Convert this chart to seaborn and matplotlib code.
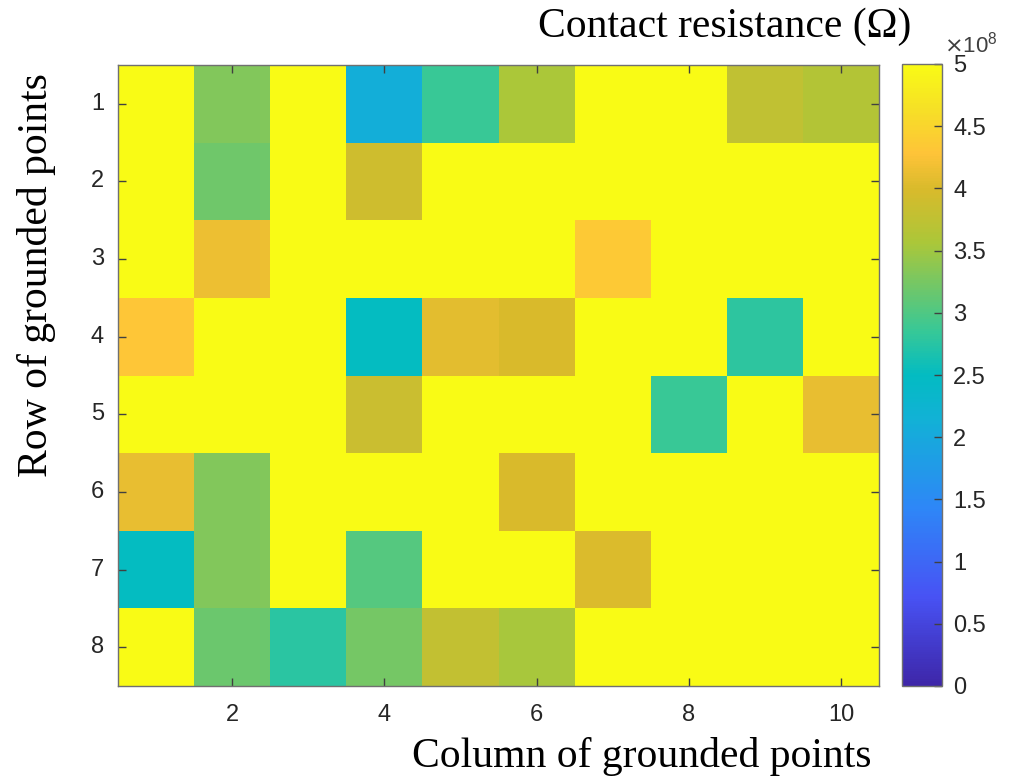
import numpy as np
import pandas as pd
import matplotlib
matplotlib.use("Agg")
import matplotlib.pyplot as plt
import seaborn as sns
from matplotlib.colors import LinearSegmentedColormap

# Contact resistance of each grounded point, in units of 1e8 ohm
row_labels = [1, 2, 3, 4, 5, 6, 7, 8]
col_labels = [1, 2, 3, 4, 5, 6, 7, 8, 9, 10]
row1 = [5.0, 3.32, 5.0, 2.10, 2.86, 3.57, 5.0, 5.0, 3.76, 3.64]
row2 = [5.0, 3.20, 5.0, 3.90, 5.0, 5.0, 5.0, 5.0, 5.0, 5.0]
row3 = [5.0, 4.15, 5.0, 5.0, 5.0, 5.0, 4.35, 5.0, 5.0, 5.0]
row4 = [4.30, 5.0, 5.0, 2.50, 4.08, 4.00, 5.0, 5.0, 2.78, 5.0]
row5 = [5.0, 5.0, 5.0, 3.86, 5.0, 5.0, 5.0, 2.86, 5.0, 4.12]
row6 = [4.12, 3.32, 5.0, 5.0, 5.0, 4.00, 5.0, 5.0, 5.0, 5.0]
row7 = [2.50, 3.32, 5.0, 3.03, 5.0, 5.0, 4.02, 5.0, 5.0, 5.0]
row8 = [5.0, 3.17, 2.77, 3.23, 3.78, 3.55, 5.0, 5.0, 5.0, 5.0]
cbar_ticks = [0, 0.5, 1, 1.5, 2, 2.5, 3, 3.5, 4, 4.5, 5]
cbar_ticklabels = ["0", "0.5", "1", "1.5", "2", "2.5", "3", "3.5", "4", "4.5", "5"]
x_ticks = [2, 4, 6, 8, 10]

df = pd.DataFrame([row1, row2, row3, row4, row5, row6, row7, row8],
                  index=row_labels, columns=col_labels)

# parula-like colormap
parula = LinearSegmentedColormap.from_list("parula", [
    (0.000, (0.242, 0.150, 0.660)),
    (0.143, (0.281, 0.323, 0.958)),
    (0.286, (0.179, 0.529, 0.968)),
    (0.429, (0.069, 0.695, 0.839)),
    (0.500, (0.010, 0.735, 0.760)),
    (0.571, (0.216, 0.784, 0.592)),
    (0.714, (0.672, 0.779, 0.223)),
    (0.800, (0.850, 0.730, 0.170)),
    (0.857, (0.997, 0.766, 0.220)),
    (0.930, (0.965, 0.880, 0.150)),
    (1.000, (0.977, 0.984, 0.081)),
], N=256)

W, H = 1011, 780
fig = plt.figure(figsize=(W / 100, H / 100), dpi=100)
ax = fig.add_axes([118 / W, 1 - 686 / H, (879 - 118) / W, (686 - 65) / H])
cax = fig.add_axes([902 / W, 1 - 686 / H, (942 - 902) / W, (686 - 64) / H])

sns.heatmap(df, ax=ax, cbar_ax=cax, cmap=parula, vmin=0, vmax=5, linewidths=0)

tick_color = "#262626"
sans = "Liberation Sans"
serif = "Liberation Serif"

ax.set_xticks([c - 0.5 for c in x_ticks])
ax.set_xticklabels([str(c) for c in x_ticks], rotation=0, family=sans)
ax.set_yticks([r - 0.5 for r in row_labels])
ax.set_yticklabels([str(r) for r in row_labels], rotation=0, family=sans)
ax.set_xlabel("")
ax.set_ylabel("")
ax.tick_params(direction="in", top=True, right=True, length=6, width=1,
               color="#404040", labelsize=17, labelcolor=tick_color, pad=10)
ax.tick_params(axis="x", pad=13)
for s in ax.spines.values():
    s.set_visible(True)
    s.set_color("#707070")
    s.set_linewidth(1)

cbar = ax.collections[0].colorbar
cbar.set_ticks(cbar_ticks)
cbar.set_ticklabels(cbar_ticklabels)
cax.tick_params(direction="in", length=6, width=1, color="#404040",
                labelsize=17, labelcolor=tick_color, pad=8)
for t in cax.get_yticklabels():
    t.set_family(sans)
cbar.outline.set_visible(True)
cbar.outline.set_edgecolor("#707070")
cbar.outline.set_linewidth(1)

fig.text(944 / W, 1 - 52 / H, r"$\times\mathregular{10^{8}}$", ha="left",
         va="baseline", fontsize=16, color="#404040", family=sans)
fig.text(725 / W, 1 - 27 / H, "Contact resistance (Ω)", ha="center",
         va="center", fontsize=30, family=serif, color="black")
fig.text(642 / W, 1 - 757 / H, "Column of grounded points", ha="center",
         va="center", fontsize=30, family=serif, color="black")
fig.text(37 / W, 1 - 275 / H, "Row of grounded points", ha="center",
         va="center", rotation=90, fontsize=30, family=serif, color="black")

fig.savefig("out.png", dpi=100)
